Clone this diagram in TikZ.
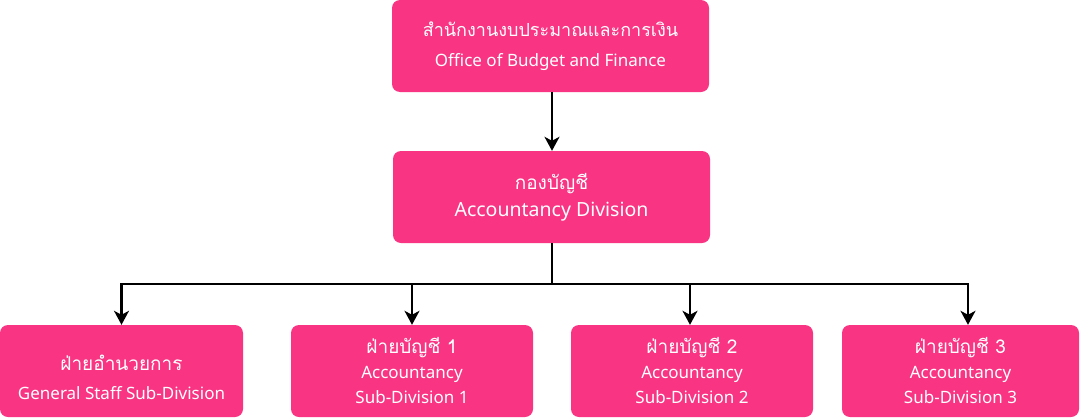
\documentclass[tikz,border=0pt]{standalone}
\usepackage{fontspec}
\setmainfont{Noto Sans}
\newfontfamily\thaifont[Script=Thai]{Loma}
\usetikzlibrary{arrows.meta}
\definecolor{orgpink}{RGB}{249,52,131}
\newcommand{\thline}[2][19]{{\thaifont\fontsize{#1}{#1}\selectfont #2}}
\begin{document}
\begin{tikzpicture}
  [x=1pt, y=-1pt]
  \tikzstyle{box} = [fill=orgpink, rounded corners=8pt, text=white, align=center, inner sep=0pt, minimum height=92pt];
  \tikzstyle{top_box} = [box, minimum width=317pt];
  \tikzstyle{sub_box} = [box, minimum width=242pt, font=\fontsize{17}{25}\selectfont];
  \tikzstyle{link} = [draw=black, line width=2.2pt];
  \tikzstyle{arrow} = [link, -{Stealth[length=14pt, width=15pt, inset=4pt]}];

  \useasboundingbox (0, 0) rectangle (1080, 418);

  \node[top_box, font=\fontsize{17}{30}\selectfont] (office) at (550.5, 46)
    {\thline[18]{สำนักงานงบประมาณและการเงิน} \\ Office of Budget and Finance};

  \node[top_box, font=\fontsize{19.5}{27}\selectfont] (division) at (551.5, 197)
    {\thline{กองบัญชี} \\ Accountancy Division};

  \node[sub_box, minimum width=243pt, font=\fontsize{17}{29}\selectfont] (general) at (121.5, 371)
    {\rule{0pt}{28pt}\thline{ฝ่ายอำนวยการ} \\ General Staff Sub-Division};

  \node[sub_box] (acc1) at (412, 371)
    {\thline{ฝ่ายบัญชี 1} \\ Accountancy \\ Sub-Division 1};

  \node[sub_box] (acc2) at (692, 371)
    {\thline{ฝ่ายบัญชี 2} \\ Accountancy \\ Sub-Division 2};

  \node[sub_box, minimum width=237pt] (acc3) at (960.5, 371)
    {\thline{ฝ่ายบัญชี 3} \\ Accountancy \\ Sub-Division 3};

  \coordinate (bus) at (552, 284);

  \draw[arrow] (office.south -| bus) -- (division.north -| bus);
  \draw[link] (division.south -| bus) -- (bus);
  \draw[arrow] (bus) -| (general.north);
  \draw[arrow] (bus) -| (acc1.north);
  \draw[arrow] (bus) -| ([xshift=-2pt]acc2.north);
  \draw[arrow] (bus) -| ([xshift=7.5pt]acc3.north);

\end{tikzpicture}
\end{document}
